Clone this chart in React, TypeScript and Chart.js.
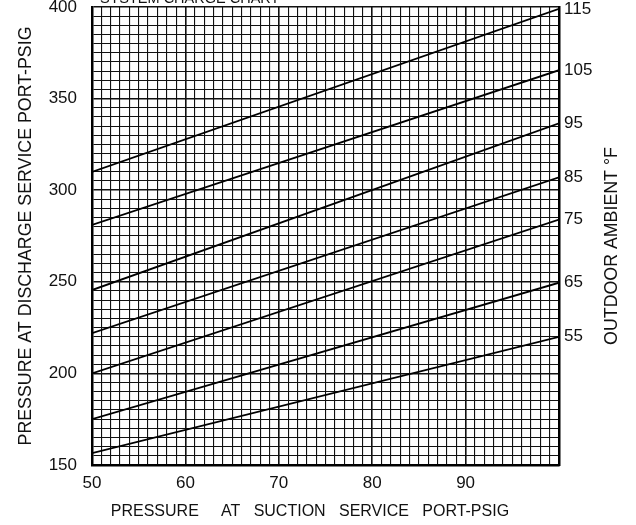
import React, { useEffect, useRef } from "react";
import { Chart, registerables } from "chart.js";

Chart.register(...registerables);

// Suction pressure (x) endpoints of each ambient line
const suctionPsig = [50, 100];
// Outdoor ambient temperatures (°F), one line each
const ambientTemps = [115, 105, 95, 85, 75, 65, 55];
// Discharge pressure at suction = 50 psig
const dischargeAt50 = [310, 281, 245.5, 222, 200, 175, 156.5];
// Discharge pressure at suction = 100 psig
const dischargeAt100 = [399, 365.5, 336.5, 307, 284, 249.5, 220];

const xMin = 50;
const xMax = 100;
const yMin = 150;
const yMax = 400;
const xLabelValues = [50, 60, 70, 80, 90];
const yLabelValues = [150, 200, 250, 300, 350, 400];

const FONT = "'Liberation Sans', Arial, Helvetica, sans-serif";

const rightTitlePlugin = {
  id: "rightTitle",
  afterDraw(chart: any) {
    const { ctx, chartArea } = chart;
    ctx.save();
    ctx.translate(chartArea.right + 53, chartArea.top + 239);
    ctx.rotate(-Math.PI / 2);
    ctx.font = `17.8px ${FONT}`;
    ctx.fillStyle = "#111";
    ctx.textAlign = "center";
    ctx.textBaseline = "middle";
    ctx.fillText("OUTDOOR AMBIENT °F", 0, 0);
    ctx.restore();
  },
};

export default function App() {
  const canvasRef = useRef<HTMLCanvasElement | null>(null);

  useEffect(() => {
    const canvas = canvasRef.current;
    if (!canvas) return;

    const datasets = ambientTemps.map((t, i) => ({
      label: `${t}`,
      data: [
        { x: suctionPsig[0], y: dischargeAt50[i] },
        { x: suctionPsig[1], y: dischargeAt100[i] },
      ],
      borderColor: "#000",
      borderWidth: 1.8,
      pointRadius: 0,
      fill: false,
      tension: 0,
    }));

    const chart = new Chart(canvas, {
      type: "line",
      data: { datasets },
      plugins: [rightTitlePlugin],
      options: {
        animation: false,
        responsive: false,
        layout: { padding: { top: 7, left: 0, right: 0, bottom: 0 } },
        plugins: {
          legend: { display: false },
          tooltip: { enabled: false },
        },
        scales: {
          x: {
            type: "linear",
            min: xMin,
            max: xMax,
            afterFit: (scale: any) => {
              scale.height = 60;
              scale.paddingLeft = 0;
              scale.paddingRight = 0;
            },
            ticks: {
              stepSize: 1,
              autoSkip: false,
              maxRotation: 0,
              padding: 8,
              color: "#111",
              font: { family: FONT, size: 17 },
              callback: (v: any) => (xLabelValues.includes(Number(v)) ? String(v) : ""),
            },
            grid: {
              color: "#111",
              drawTicks: false,
              lineWidth: (ctx: any) =>
                ctx.tick && xLabelValues.concat([xMax]).includes(ctx.tick.value) ? 1.6 : 1.1,
            },
            border: { display: true, color: "#000", width: 2.5 },
            title: {
              display: true,
              text: "PRESSURE     AT   SUCTION   SERVICE   PORT-PSIG       ",
              color: "#111",
              font: { family: FONT, size: 16 },
              padding: { top: 0, bottom: 4 },
            },
          },
          y: {
            type: "linear",
            position: "left",
            min: yMin,
            max: yMax,
            afterFit: (scale: any) => {
              scale.width = 92;
              scale.paddingTop = 0;
              scale.paddingBottom = 0;
            },
            ticks: {
              stepSize: 5,
              autoSkip: false,
              padding: 15,
              color: "#111",
              font: { family: FONT, size: 17 },
              callback: (v: any) => (yLabelValues.includes(Number(v)) ? String(v) : ""),
            },
            grid: {
              color: "#111",
              drawTicks: false,
              lineWidth: (ctx: any) =>
                ctx.tick && yLabelValues.includes(ctx.tick.value) ? 1.6 : 1.1,
            },
            border: { display: true, color: "#000", width: 2.5 },
            title: {
              display: true,
              text: "PRESSURE AT DISCHARGE SERVICE PORT-PSIG",
              color: "#111",
              font: { family: FONT, size: 17.8 },
              padding: { top: 15, bottom: 0 },
            },
          },
          y2: {
            type: "linear",
            position: "right",
            min: yMin,
            max: yMax,
            afterFit: (scale: any) => {
              scale.width = 77;
              scale.paddingTop = 0;
              scale.paddingBottom = 0;
            },
            afterBuildTicks: (scale: any) => {
              scale.ticks = dischargeAt100.map((v) => ({ value: v }));
            },
            ticks: {
              autoSkip: false,
              padding: 5,
              color: "#111",
              font: { family: FONT, size: 17 },
              callback: (v: any) => {
                const i = dischargeAt100.indexOf(Number(v));
                return i >= 0 ? String(ambientTemps[i]) : "";
              },
            },
            grid: { display: false, drawTicks: false },
            border: { display: true, color: "#000", width: 2.5 },
          },
        },
      },
    });

    return () => chart.destroy();
  }, []);

  return (
    <div
      style={{
        position: "fixed",
        left: 0,
        top: 0,
        width: 636,
        height: 525,
        background: "#fff",
        overflow: "hidden",
      }}
    >
      <div
        style={{
          position: "absolute",
          top: -10,
          left: 100,
          fontFamily: FONT,
          fontSize: 14.5,
          color: "#111",
          whiteSpace: "nowrap",
          lineHeight: "16px",
        }}
      >
        SYSTEM CHARGE CHART
      </div>
      <canvas ref={canvasRef} width={636} height={525} style={{ display: "block" }} />
    </div>
  );
}
